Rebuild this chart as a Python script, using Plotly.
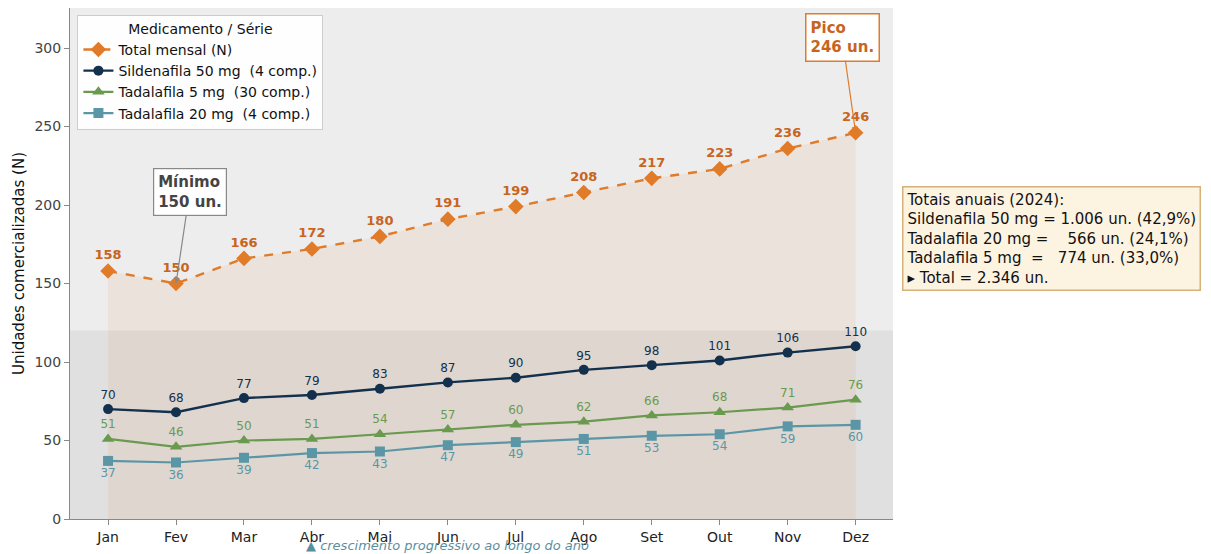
import plotly.graph_objects as go

meses = ["Jan", "Fev", "Mar", "Abr", "Mai", "Jun", "Jul", "Ago", "Set", "Out", "Nov", "Dez"]
total = [158, 150, 166, 172, 180, 191, 199, 208, 217, 223, 236, 246]
sildenafila_50 = [70, 68, 77, 79, 83, 87, 90, 95, 98, 101, 106, 110]
tadalafila_5 = [51, 46, 50, 51, 54, 57, 60, 62, 66, 68, 71, 76]
tadalafila_20 = [37, 36, 39, 42, 43, 47, 49, 51, 53, 54, 59, 60]

C_TOT = "#e07b2a"
C_TOT_TXT = "#c8641e"
C_SIL = "#13304d"
C_T5 = "#6a9a4f"
C_T20 = "#5b96a6"
FONT = "DejaVu Sans"

x = list(range(len(meses)))
fig = go.Figure()

# fill under total
fig.add_trace(go.Scatter(x=x, y=total, mode="lines", line=dict(width=0),
                         fill="tozeroy", fillcolor="rgba(224,123,42,0.09)",
                         showlegend=False, hoverinfo="skip"))

fig.add_trace(go.Scatter(
    x=x, y=total, mode="lines+markers+text", name="Total mensal (N)",
    line=dict(color=C_TOT, width=2.4, dash="dash"),
    marker=dict(symbol="diamond", size=12, color=C_TOT),
    text=[str(v) for v in total], textposition="top center",
    textfont=dict(color=C_TOT_TXT, size=13, family=FONT, weight="bold")))

fig.add_trace(go.Scatter(
    x=x, y=sildenafila_50, mode="lines+markers+text", name="Sildenafila 50 mg  (4 comp.)",
    line=dict(color=C_SIL, width=2.4),
    marker=dict(symbol="circle", size=10, color=C_SIL),
    text=[str(v) for v in sildenafila_50], textposition="top center",
    textfont=dict(color=C_SIL, size=12, family=FONT)))

fig.add_trace(go.Scatter(
    x=x, y=tadalafila_5, mode="lines+markers+text", name="Tadalafila 5 mg  (30 comp.)",
    line=dict(color=C_T5, width=2.2),
    marker=dict(symbol="triangle-up", size=11, color=C_T5),
    text=[str(v) for v in tadalafila_5], textposition="top center",
    textfont=dict(color=C_T5, size=12, family=FONT)))

fig.add_trace(go.Scatter(
    x=x, y=tadalafila_20, mode="lines+markers+text", name="Tadalafila 20 mg  (4 comp.)",
    line=dict(color=C_T20, width=2.2),
    marker=dict(symbol="square", size=10, color=C_T20),
    text=[str(v) for v in tadalafila_20], textposition="bottom center",
    textfont=dict(color=C_T20, size=12, family=FONT)))

# lower band
fig.add_shape(type="rect", xref="paper", yref="y", x0=0, x1=1, y0=0, y1=120,
              fillcolor="rgba(0,0,0,0.055)", line=dict(width=0), layer="below")

# annotations
fig.add_annotation(x=1, y=150, xref="x", yref="y", ax=1.2, ay=208, axref="x", ayref="y",
                   text="<b>Mínimo<br>150 un.</b>", showarrow=True, arrowhead=2, arrowsize=1,
                   arrowwidth=1.2, arrowcolor="#888888", align="left",
                   font=dict(size=15, color="#444444", family=FONT),
                   bgcolor="white", bordercolor="#888888", borderwidth=1.2, borderpad=4)
fig.add_annotation(x=11, y=246, xref="x", yref="y", ax=10.8, ay=307, axref="x", ayref="y",
                   text="<b>Pico<br>246 un.</b>", showarrow=True, arrowhead=2, arrowsize=1,
                   arrowwidth=1.2, arrowcolor=C_TOT, align="left",
                   font=dict(size=15, color=C_TOT_TXT, family=FONT),
                   bgcolor="white", bordercolor=C_TOT, borderwidth=1.5, borderpad=4)

nb = "\u00a0"
tot_txt = ("Totais anuais (2024):<br>"
           "Sildenafila 50 mg = 1.006 un. (42,9%)<br>"
           f"Tadalafila 20 mg = {nb*3}566 un. (24,1%)<br>"
           f"Tadalafila 5 mg {nb}={nb*3}774 un. (33,0%)<br>"
           "▸ Total = 2.346 un.")
fig.add_annotation(x=1.011, y=0.652, xref="paper", yref="paper", xanchor="left", yanchor="top",
                   text=tot_txt, showarrow=False, align="left",
                   font=dict(size=15, color="#111111", family=FONT),
                   bgcolor="#fdf3e1", bordercolor="#d4b27a", borderwidth=1.5, borderpad=3)

fig.add_annotation(x=0.459, y=-0.051, xref="paper", yref="paper", xanchor="center", yanchor="middle",
                   text="<i>▲ crescimento progressivo ao longo do ano</i>", showarrow=False,
                   font=dict(size=13, color="#5b8fa0", family=FONT))

fig.update_layout(
    width=1203, height=546,
    margin=dict(l=62, r=318, t=0, b=35),
    paper_bgcolor="white", plot_bgcolor="#ededed",
    font=dict(family=FONT, size=14, color="#222222"),
    legend=dict(x=0.009, y=0.987, xanchor="left", yanchor="top",
                bgcolor="rgba(255,255,255,0.9)", bordercolor="#cccccc", borderwidth=1,
                font=dict(size=14, family=FONT, color="#111111"),
                title=dict(text="Medicamento / Série", side="top center",
                           font=dict(size=14, family=FONT, color="#111111")),
                tracegroupgap=2),
    xaxis=dict(tickmode="array", tickvals=x, ticktext=meses, range=[-0.56, 11.55],
               showgrid=False, zeroline=False, showline=True, linecolor="#888888",
               ticks="outside", tickcolor="#888888", ticklen=5, automargin=False,
               tickfont=dict(size=14, color="#222222")),
    yaxis=dict(range=[0, 325.5], tickvals=[0, 50, 100, 150, 200, 250, 300],
               showgrid=False, zeroline=False, showline=True, linecolor="#888888",
               ticks="outside", tickcolor="#888888", ticklen=5, automargin=False,
               tickfont=dict(size=14, color="#444444"),
               title=dict(text="Unidades comercializadas (N)", font=dict(size=15, color="#111111"),
                          standoff=6)),
)

fig.write_html("out.html")
